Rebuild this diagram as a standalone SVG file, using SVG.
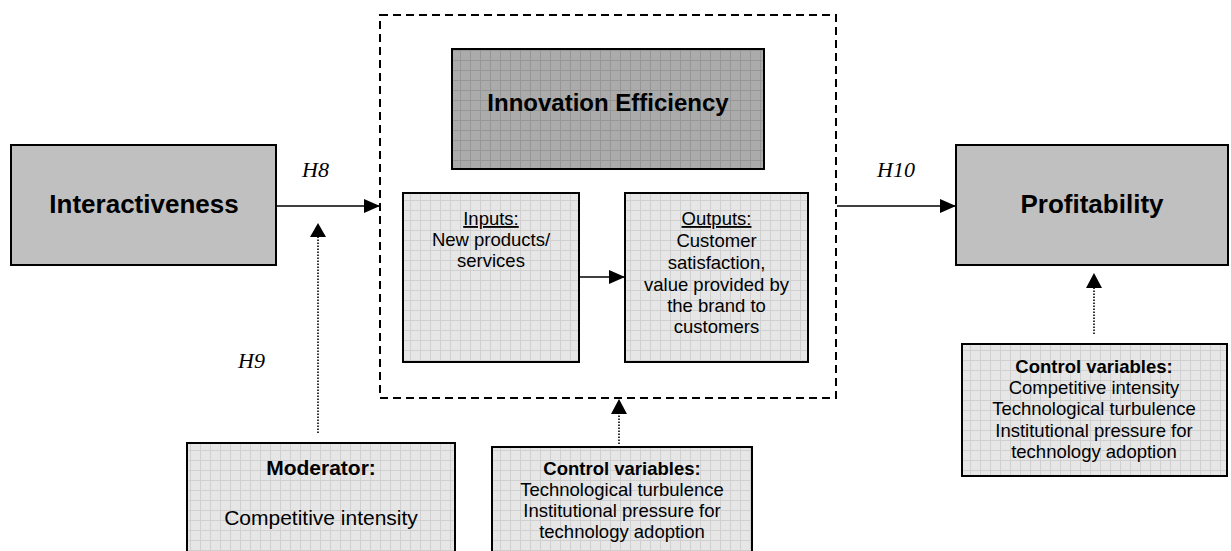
<svg xmlns="http://www.w3.org/2000/svg" width="1231" height="551" viewBox="0 0 1231 551">
<style>
.box{stroke:#000;stroke-width:2}
.t{font-family:"Liberation Sans",Arial,sans-serif;fill:#000;text-anchor:middle}
.b{font-weight:bold}
.s{font-size:18.5px}
.h{font-family:"Liberation Serif","Times New Roman",serif;font-style:italic;font-size:22px;fill:#000}
.ln{stroke:#000;stroke-width:1.6;fill:none}
.dot{stroke:#000;stroke-width:1.6;fill:none;stroke-dasharray:1.5,1.5}
</style>
<defs>
<pattern id="pl" width="10" height="10" patternUnits="userSpaceOnUse">
<rect width="10" height="10" fill="#e6e6e6"/>
<path d="M0 0.5H10M0.5 0V10" stroke="#d0d0d0" stroke-width="1"/>
</pattern>
<pattern id="pd" width="10" height="10" patternUnits="userSpaceOnUse">
<rect width="10" height="10" fill="#ababab"/>
<path d="M0 0.5H10M0.5 0V10" stroke="#969696" stroke-width="1"/>
</pattern>
<marker id="ah" markerUnits="userSpaceOnUse" markerWidth="16" markerHeight="14" refX="16" refY="7" orient="auto">
<path d="M0,0 L16,7 L0,14 Z" fill="#000"/>
</marker>
</defs>
<rect width="1231" height="551" fill="#fff"/>

<g id="innovation-frame">
<rect x="380" y="15" width="456" height="383" fill="none" stroke="#000" stroke-width="2" stroke-dasharray="8,5"/>
</g>

<g id="interactiveness">
<rect class="box" x="11" y="145" width="265" height="120" fill="#c0c0c0"/>
<text class="t b" x="144" y="213" font-size="26">Interactiveness</text>
</g>

<g id="innovation-efficiency">
<rect class="box" x="452" y="49" width="312" height="120" fill="url(#pd)"/>
<text class="t b" x="608" y="111" font-size="24">Innovation Efficiency</text>
</g>

<g id="inputs">
<rect class="box" x="403" y="193" width="176" height="169" fill="url(#pl)"/>
<text class="t s" x="491" y="225" text-decoration="underline">Inputs:</text>
<text class="t s" x="491" y="246">New products/</text>
<text class="t s" x="491" y="267">services</text>
</g>

<g id="outputs">
<rect class="box" x="625" y="193" width="183" height="169" fill="url(#pl)"/>
<text class="t s" x="716.5" y="225" text-decoration="underline">Outputs:</text>
<text class="t s" x="716.5" y="247">Customer</text>
<text class="t s" x="716.5" y="269">satisfaction,</text>
<text class="t s" x="716.5" y="290.5">value provided by</text>
<text class="t s" x="716.5" y="311.5">the brand to</text>
<text class="t s" x="716.5" y="332.5">customers</text>
</g>

<g id="profitability">
<rect class="box" x="956" y="145" width="272" height="120" fill="#c0c0c0"/>
<text class="t b" x="1092" y="213" font-size="26">Profitability</text>
</g>

<g id="control-right">
<rect class="box" x="962" y="344" width="265" height="132" fill="url(#pl)"/>
<text class="t s b" x="1094" y="373">Control variables:</text>
<text class="t s" x="1094" y="394">Competitive intensity</text>
<text class="t s" x="1094" y="415">Technological turbulence</text>
<text class="t s" x="1094" y="436.5">Institutional pressure for</text>
<text class="t s" x="1094" y="458">technology adoption</text>
</g>

<g id="moderator">
<rect class="box" x="187" y="443" width="268" height="120" fill="url(#pl)"/>
<text class="t b" x="321" y="475" font-size="21">Moderator:</text>
<text class="t" x="321" y="525" font-size="21">Competitive intensity</text>
</g>

<g id="control-middle">
<rect class="box" x="492" y="447" width="260" height="116" fill="url(#pl)"/>
<text class="t s b" x="622" y="475">Control variables:</text>
<text class="t s" x="622" y="496">Technological turbulence</text>
<text class="t s" x="622" y="517">Institutional pressure for</text>
<text class="t s" x="622" y="538">technology adoption</text>
</g>

<g id="connectors">
<line class="ln" x1="277" y1="206" x2="380" y2="206" marker-end="url(#ah)"/>
<line class="ln" x1="837" y1="206" x2="956" y2="206" marker-end="url(#ah)"/>
<line class="ln" x1="580" y1="277" x2="625" y2="277" marker-end="url(#ah)"/>
<line class="dot" x1="318" y1="433" x2="318" y2="237"/>
<path d="M318,223 L326,237 L310,237 Z" fill="#000"/>
<line class="dot" x1="619" y1="444" x2="619" y2="414"/>
<path d="M619,399 L627,414 L611,414 Z" fill="#000"/>
<line class="dot" x1="1094" y1="334" x2="1094" y2="288"/>
<path d="M1094,273 L1102,288 L1086,288 Z" fill="#000"/>
</g>

<g id="labels">
<text class="h" x="302" y="177">H8</text>
<text class="h" x="877" y="177">H10</text>
<text class="h" x="238" y="368">H9</text>
</g>
</svg>
